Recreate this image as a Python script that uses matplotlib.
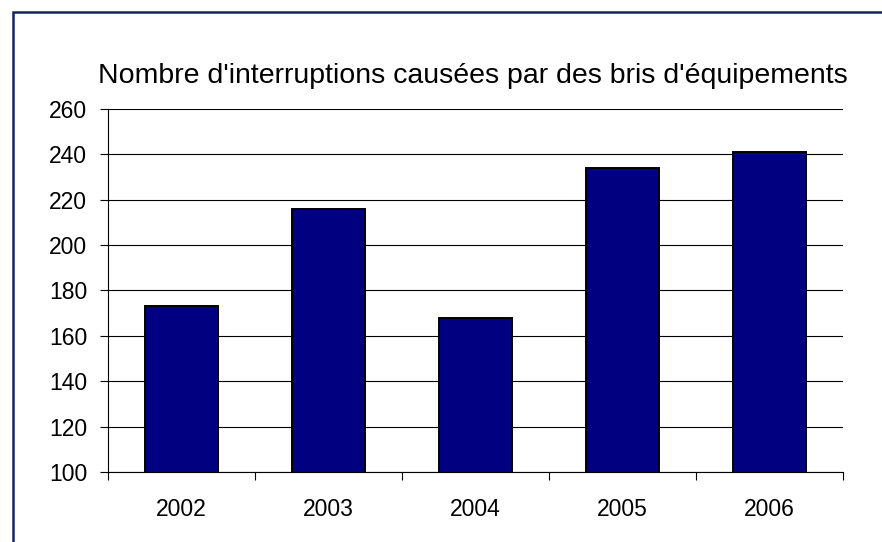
import matplotlib
matplotlib.use("Agg")
import matplotlib.pyplot as plt
from matplotlib.patches import Rectangle
import numpy as np

plt.rcParams['font.family'] = ['Liberation Sans', 'DejaVu Sans']

years = ["2002", "2003", "2004", "2005", "2006"]
counts = [173, 216, 168, 234, 241]
title = "Nombre d'interruptions causées par des bris d'équipements"

fig = plt.figure(figsize=(8.82, 5.42), dpi=100)
ax = fig.add_axes([108/882, 1-472/542, (843-108)/882, (472-109)/542])

x = np.arange(len(years))
ax.bar(x, counts, width=0.5, color="#000080", edgecolor="black", linewidth=1.4, zorder=3)

ax.set_xlim(-0.5, len(years)-0.5)
ax.set_ylim(100, 260)
ax.set_yticks(np.arange(100, 261, 20))
ax.yaxis.grid(True, color="black", linewidth=0.8, zorder=0)
ax.set_axisbelow(True)

ax.set_xticks(x)
ax.set_xticklabels(years, fontsize=16.5)
ax.set_xticks(np.arange(-0.5, len(years), 1), minor=True)
ax.tick_params(axis="x", which="major", length=0, pad=19)
ax.tick_params(axis="x", which="minor", length=6, width=0.8, direction="out")
ax.tick_params(axis="y", length=6, width=0.8, labelsize=16.5, pad=9)

for s in ["top", "right"]:
    ax.spines[s].set_visible(False)
for s in ["left", "bottom"]:
    ax.spines[s].set_linewidth(0.8)

fig.text(473/882, 1-83/542, title, ha="center", va="baseline", fontsize=20.5)

# outer chart border (bottom/right run off the picture)
fig.patches.append(Rectangle((13/882, -0.05), 1.0, 1-12/542+0.05, transform=fig.transFigure,
                             fill=False, edgecolor="#14246b", linewidth=1.8))

fig.savefig("out.png", dpi=100)
